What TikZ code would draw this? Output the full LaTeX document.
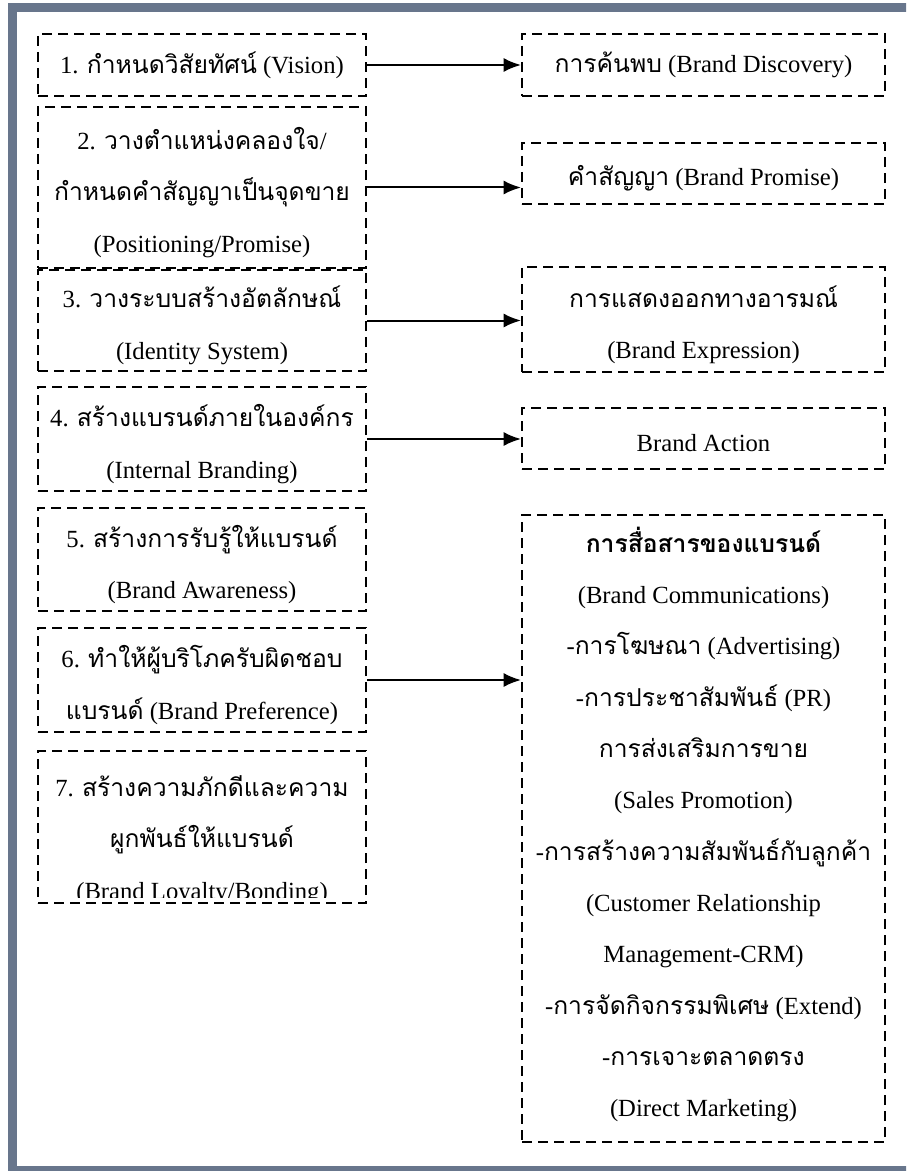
\documentclass[tikz,border=0pt]{standalone}
\usepackage{fontspec}
\setmainfont{Liberation Serif}
\newfontfamily\thaifont[Script=Thai,Scale=1.0]{Loma}
\newcommand\thtext[1]{{\thaifont #1}}
\usetikzlibrary{arrows.meta}
\definecolor{framegray}{RGB}{104,118,140}

\begin{document}
\begin{tikzpicture}[x=0.3pt, y=-0.3pt,
    leftbox/.style={draw, line width=0.6pt, dash pattern=on 3pt off 1.8pt,
      minimum width=98.4pt, inner sep=0pt, align=center,
      font=\fontsize{7.4}{15.4}\selectfont},
    rightbox/.style={leftbox, minimum width=108.9pt},
    boxtext/.style={inner sep=0pt, align=center, yshift=-1.5pt, font=\fontsize{7.4}{15.4}\selectfont},
    link/.style={line width=0.6pt, -{Latex[length=5.2pt, width=4.2pt]}}]

    \useasboundingbox (0, 0) rectangle (906, 1171);
    \begin{scope}
      \clip (0, 0) rectangle (906, 1171);
      \draw[framegray, line width=2.7pt] (12, 7.5) rectangle (912, 1170.5);
    \end{scope}

    \node[leftbox, minimum height=18.6pt] (l1) at (202, 65) {1. \thtext{กำหนดวิสัยทัศน์} (Vision)};
    \node[leftbox, minimum height=48.3pt, label={[boxtext]center:2. \thtext{วางตำแหน่งคลองใจ}/\\\thtext{กำหนดคำสัญญาเป็นจุดขาย}\\(Positioning/Promise)}] (l2) at (202, 187.5) {};
    \node[leftbox, minimum height=30.3pt, label={[boxtext]center:3. \thtext{วางระบบสร้างอัตลักษณ์}\\(Identity System)}] (l3) at (202, 320.5) {};
    \node[leftbox, minimum height=31.2pt, label={[boxtext]center:4. \thtext{สร้างแบรนด์ภายในองค์กร}\\(Internal Branding)}] (l4) at (202, 439) {};
    \node[leftbox, minimum height=30.9pt, label={[boxtext]center:5. \thtext{สร้างการรับรู้ให้แบรนด์}\\(Brand Awareness)}] (l5) at (202, 559.5) {};
    \node[leftbox, minimum height=31.2pt, label={[boxtext]center:6. \thtext{ทำให้ผู้บริโภครับผิดชอบ}\\\thtext{แบรนด์} (Brand Preference)}] (l6) at (202, 680) {};
    \node[leftbox, minimum height=45.6pt] (l7) at (202, 827) {};

    \begin{scope}
      \clip (l7.north west) rectangle ([yshift=2.1pt]l7.south east);
      \node[boxtext, yshift=1.5pt] (l7t) at (202, 840) {7. \thtext{สร้างความภักดีและความ}\\\thtext{ผูกพันธ์ให้แบรนด์}\\(Brand Loyalty/Bonding)};
    \end{scope}

    %right

    \node[rightbox, minimum height=18.6pt] (r1) at (703.5, 65) {\thtext{การค้นพบ} (Brand Discovery)};
    \node[rightbox, minimum height=18.3pt, label={[boxtext]center:\thtext{คำสัญญา} (Brand Promise)}] (r2) at (703.5, 173.5) {};
    \node[rightbox, minimum height=31.5pt, label={[boxtext]center:\thtext{การแสดงออกทางอารมณ์}\\(Brand Expression)}] (r3) at (703.5, 319.5) {};
    \node[rightbox, minimum height=18.3pt, label={[boxtext]center:Brand Action}] (r4) at (703.5, 438.5) {};
    \node[rightbox, minimum height=188.1pt, text depth=4pt] (r5) at (703.5, 828.5) {\thtext{\bfseries การสื่อสารของแบรนด์}\\(Brand Communications)\\-\thtext{การโฆษณา} (Advertising)\\-\thtext{การประชาสัมพันธ์} (PR)\\\thtext{การส่งเสริมการขาย}\\(Sales Promotion)\\-\thtext{การสร้างความสัมพันธ์กับลูกค้า}\\(Customer Relationship\\Management-CRM)\\-\thtext{การจัดกิจกรรมพิเศษ} (Extend)\\-\thtext{การเจาะตลาดตรง}\\(Direct Marketing)};

    \path[draw, link] (l1.east) to (l1.east -| r1.west);
    \path[draw, link] (l2.east) to (l2.east -| r2.west);
    \path[draw, link] (l3.east) to (l3.east -| r3.west);
    \path[draw, link] (l4.east) to (l4.east -| r4.west);
    \path[draw, link] (l6.east) to (l6.east -| r5.west);

  \end{tikzpicture}
\end{document}
